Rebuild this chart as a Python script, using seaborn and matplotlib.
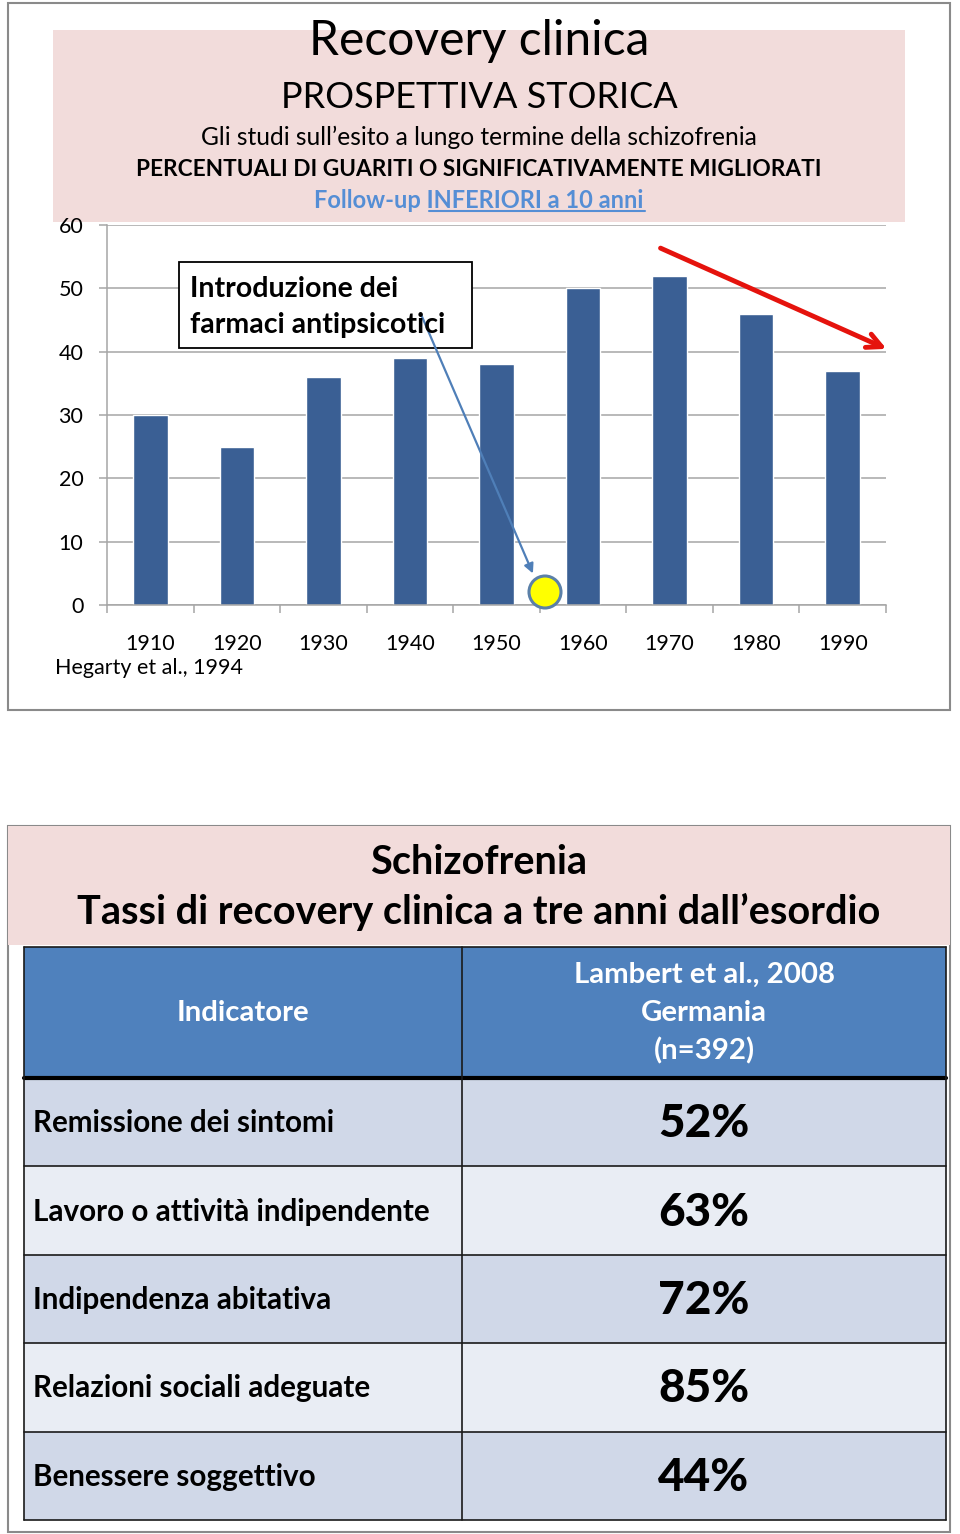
import matplotlib
matplotlib.use("Agg")
import matplotlib.pyplot as plt
import seaborn as sns
import pandas as pd
import numpy as np
from matplotlib.patches import Rectangle, Circle, FancyArrowPatch

# ---------------- data ----------------
years = ["1910", "1920", "1930", "1940", "1950", "1960", "1970", "1980", "1990"]
recovered = [30, 25, 36, 39, 38, 50, 52, 46, 37]
ytick_vals = [0, 10, 20, 30, 40, 50, 60]

title_main = "Recovery clinica"
title_sub = "PROSPETTIVA STORICA"
title_line3 = "Gli studi sull\u2019esito a lungo termine della schizofrenia"
title_line4 = "PERCENTUALI DI GUARITI O SIGNIFICATIVAMENTE MIGLIORATI"
title_line5a = "Follow-up "
title_line5b = "INFERIORI a 10 anni"
box_text = "Introduzione dei\nfarmaci antipsicotici"
source_text = "Hegarty et al., 1994"

table_title = ["Schizofrenia", "Tassi di recovery clinica a tre anni dall\u2019esordio"]
header_left = "Indicatore"
header_right = ["Lambert et al., 2008", "Germania", "(n=392)"]
indicators = ["Remissione dei sintomi", "Lavoro o attivit\u00e0 indipendente",
              "Indipendenza abitativa", "Relazioni sociali adeguate", "Benessere soggettivo"]
rates = ["52%", "63%", "72%", "85%", "44%"]

# ---------------- style ----------------
sns.set_theme(style="white")
plt.rcParams['font.family'] = ['Lato', 'DejaVu Sans']

W, H = 960, 1534
fig = plt.figure(figsize=(9.6, 15.34), dpi=100)

bg = fig.add_axes([0, 0, 1, 1], zorder=0)
bg.set_xlim(0, W); bg.set_ylim(H, 0); bg.axis('off')

fg = fig.add_axes([0, 0, 1, 1], zorder=3)
fg.set_xlim(0, W); fg.set_ylim(H, 0); fg.axis('off')
fg.patch.set_alpha(0)

PINK = "#F2DCDB"
BAR = "#3A5F94"
GRID = "#A6A6A6"

# ---------- top panel ----------
bg.add_patch(Rectangle((8, 3), 942, 707, facecolor="white", edgecolor="#8A8A8A", lw=1.5))
bg.add_patch(Rectangle((53, 30), 852, 192, facecolor=PINK, edgecolor="none"))

bg.text(479, 41, title_main, ha="center", va="center", fontsize=34.5, color="black")
bg.text(479, 97, title_sub, ha="center", va="center", fontsize=26, color="black")
bg.text(479, 137, title_line3, ha="center", va="center", fontsize=17.7, color="black")
bg.text(479, 169, title_line4, ha="center", va="center", fontsize=16.3, color="black", fontweight="bold")
blue_txt = "#558ED5"
bg.text(479, 200, title_line5a + title_line5b, ha="center", va="center", fontsize=17,
        color=blue_txt, fontweight="bold")
bg.plot([429, 645], [211, 211], color=blue_txt, lw=1.5)

# bar chart
ax = fig.add_axes([107 / W, 1 - 605 / H, (886 - 107) / W, (605 - 225) / H], zorder=1)
ax.patch.set_alpha(0)
df = pd.DataFrame({"anno": years, "perc": recovered})
sns.barplot(data=df, x="anno", y="perc", color=BAR, width=0.4, saturation=1, ax=ax)
ax.set_ylim(0, 60)
ax.set_xlim(-0.5, len(years) - 0.5)
ax.set_yticks(ytick_vals)
ax.yaxis.grid(True, color=GRID, lw=1.1)
ax.set_axisbelow(True)
ax.set_xlabel(""); ax.set_ylabel("")
for s in ["top", "right"]:
    ax.spines[s].set_visible(False)
for s in ["left", "bottom"]:
    ax.spines[s].set_color(GRID)
    ax.spines[s].set_linewidth(1.1)
ax.set_xticks(np.arange(-0.5, len(years), 1), minor=True)
ax.tick_params(axis="x", which="major", bottom=True, length=0, pad=21, labelsize=15.5, labelcolor="black")
ax.tick_params(axis="x", which="minor", bottom=True, length=6, color=GRID, width=1.1)
ax.tick_params(axis="y", which="major", left=True, length=6, color=GRID, width=1.1, pad=11,
               labelsize=15.5, labelcolor="black")

bg.text(55, 668, source_text, ha="left", va="center", fontsize=15.5, color="black")

# annotations
fg.add_patch(Rectangle((179, 262), 293, 86, facecolor="white", edgecolor="black", lw=1.3))
fg.text(190, 307, box_text, ha="left", va="center", fontsize=20.5, fontweight="bold",
        color="black", linespacing=1.45)
fg.add_patch(FancyArrowPatch((420, 312), (534, 576), arrowstyle="-|>", mutation_scale=14,
                             color="#4F7FB8", lw=1.6))
fg.add_patch(Circle((545, 592), 16, facecolor="#FFFF00", edgecolor="#5B80A8", lw=2.2))
fg.add_patch(FancyArrowPatch((658, 247), (889, 350), arrowstyle="->", mutation_scale=26,
                             color="#E5130D", lw=3.5))

# ---------- bottom panel ----------
bg.add_patch(Rectangle((8, 826), 942, 706, facecolor="white", edgecolor="#8A8A8A", lw=1.5))
bg.add_patch(Rectangle((8, 826), 942, 119, facecolor=PINK, edgecolor="none"))
bg.text(479, 862, table_title[0], ha="center", va="center", fontsize=28.5, fontweight="bold", color="black")
bg.text(479, 912, table_title[1], ha="center", va="center", fontsize=28.5, fontweight="bold", color="black")

tx0, tx1, tcol = 24, 946, 462
hdr_top, hdr_bot = 947, 1078
row_h = 88.4
HDR = "#4F81BD"
ROW_D = "#D0D8E8"
ROW_L = "#E9EDF4"

bg.add_patch(Rectangle((tx0, hdr_top), tx1 - tx0, hdr_bot - hdr_top, facecolor=HDR, edgecolor="none"))
for i in range(len(indicators)):
    y0 = hdr_bot + i * row_h
    bg.add_patch(Rectangle((tx0, y0), tx1 - tx0, row_h, facecolor=ROW_D if i % 2 == 0 else ROW_L,
                           edgecolor="none"))
tbot = hdr_bot + len(indicators) * row_h
# lines
bg.plot([tx0, tx1], [hdr_top, hdr_top], color="#1A1A1A", lw=1.2)
for i in range(1, len(indicators) + 1):
    y = hdr_bot + i * row_h
    bg.plot([tx0, tx1], [y, y], color="#1A1A1A", lw=1.2)
bg.plot([tx0, tx1], [hdr_bot, hdr_bot], color="black", lw=3)
bg.plot([tx0, tx0], [hdr_top, tbot], color="#1A1A1A", lw=1.2)
bg.plot([tx1, tx1], [hdr_top, tbot], color="#1A1A1A", lw=1.2)
bg.plot([tcol, tcol], [hdr_top, tbot], color="#1A1A1A", lw=1.2)

xl = (tx0 + tcol) / 2
xr = (tcol + tx1) / 2
bg.text(xl, 1013, header_left, ha="center", va="center", fontsize=21.2, fontweight="bold", color="white")
for k, line in enumerate(header_right):
    bg.text(xr, 975 + 38 * k, line, ha="center", va="center", fontsize=21.2, fontweight="bold", color="white")

for i, (lab, val) in enumerate(zip(indicators, rates)):
    yc = hdr_bot + (i + 0.5) * row_h
    bg.text(33, yc + 1, lab, ha="left", va="center", fontsize=21.3, fontweight="bold", color="black")
    bg.text(xr, yc + 2, val, ha="center", va="center", fontsize=33, fontweight="black", color="black")

fig.savefig("out.png", dpi=100)
